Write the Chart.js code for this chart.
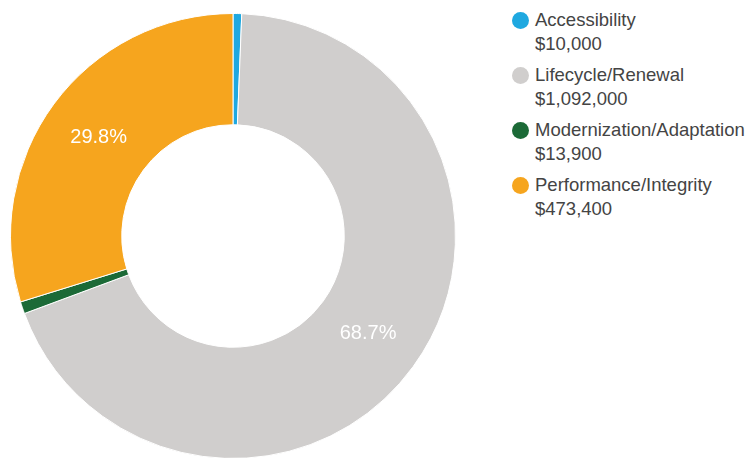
<!DOCTYPE html>
<html>
<head>
<meta charset="utf-8">
<script src="https://cdn.jsdelivr.net/npm/chart.js@4/dist/chart.umd.min.js"></script>
<style>
  body { margin: 0; background: #fff; width: 749px; height: 458px; overflow: hidden; position: relative; font-family: "Liberation Sans", Arial, sans-serif; }
  #wrap { position: absolute; left: 0; top: 0; width: 466px; height: 472px; }
  #legend { position: absolute; left: 512px; top: 8px; margin: 0; padding: 0; list-style: none; color: #444; font-size: 18.5px; }
  #legend li { position: relative; padding-left: 23px; height: 55px; line-height: 24px; white-space: nowrap; }
  #legend .dot { position: absolute; left: 0; top: 4px; width: 17px; height: 17px; border-radius: 50%; }
</style>
</head>
<body>
<div id="wrap"><canvas id="budgetChart" width="466" height="472"></canvas></div>
<ul id="legend"></ul>
<script>
'use strict'

const categories = ['Accessibility', 'Lifecycle/Renewal', 'Modernization/Adaptation', 'Performance/Integrity'];
const amounts = [10000, 1092000, 13900, 473400];
const colors = ['#1fa8e0', '#d0cecd', '#1c6a37', '#f6a51e'];

const total = amounts.reduce((a, b) => a + b, 0);

// legend on the right: name plus dollar amount
const legendList = document.getElementById('legend');
for (let i = 0; i < categories.length; i++) {
  let item = document.createElement('li');
  let dot = document.createElement('span');
  dot.className = 'dot';
  dot.style.background = colors[i];
  item.appendChild(dot);
  item.appendChild(document.createTextNode(categories[i]));
  item.appendChild(document.createElement('br'));
  item.appendChild(document.createTextNode('$' + amounts[i].toLocaleString('en-US')));
  legendList.appendChild(item);
}

// percent labels in the middle of the bigger slices
const sliceLabels = {
  id: 'sliceLabels',
  afterDatasetsDraw(chart) {
    const ctx = chart.ctx;
    const meta = chart.getDatasetMeta(0);
    ctx.save();
    ctx.fillStyle = '#fff';
    ctx.font = '20px "Liberation Sans", Arial, sans-serif';
    ctx.textAlign = 'center';
    ctx.textBaseline = 'middle';
    meta.data.forEach((arc, i) => {
      let share = amounts[i] / total;
      if (share < 0.05) return;
      let pos = arc.getCenterPoint();
      ctx.fillText((share * 100).toFixed(1) + '%', pos.x, pos.y);
    });
    ctx.restore();
  }
};

let myChart = new Chart(document.getElementById('budgetChart'), {
  type: 'doughnut',
  data: {
    labels: categories,
    datasets: [{
      data: amounts,
      backgroundColor: colors,
      borderColor: '#fff',
      borderWidth: 1
    }]
  },
  options: {
    responsive: false,
    animation: false,
    cutout: '50%',
    layout: { padding: { left: 10, right: 10, top: 13, bottom: 13 } },
    plugins: {
      legend: { display: false },
      tooltip: { enabled: false }
    }
  },
  plugins: [sliceLabels]
});
</script>
</body>
</html>
